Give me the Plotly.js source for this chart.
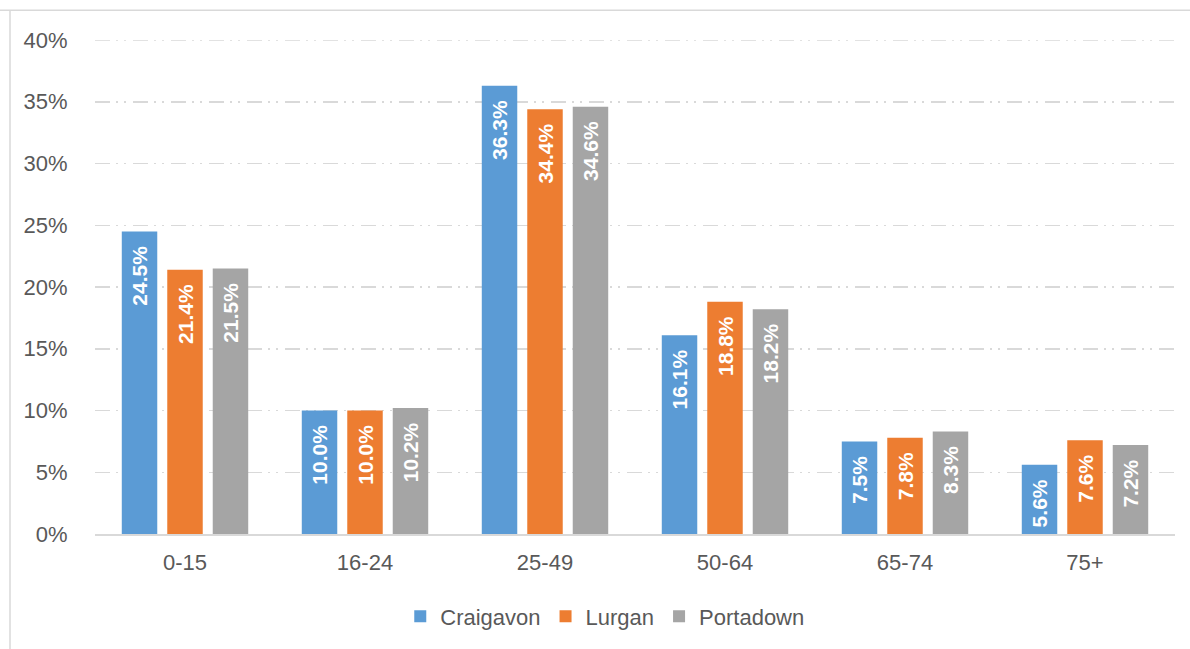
<!DOCTYPE html>
<html><head><meta charset="utf-8">
<script src="https://cdn.plot.ly/plotly-3.0.1.min.js"></script>
<style>html,body{margin:0;padding:0;background:#fff}#chart{width:1190px;height:649px}</style>
</head><body><div id="chart"></div>
<script>
const categories = ["0-15","16-24","25-49","50-64","65-74","75+"];
const craigavon = [24.5,10.0,36.3,16.1,7.5,5.6];
const lurgan = [21.4,10.0,34.4,18.8,7.8,7.6];
const portadown = [21.5,10.2,34.6,18.2,8.3,7.2];
const seriesNames = ["Craigavon","Lurgan","Portadown"];
const colors = ["#5B9BD5","#ED7D31","#A5A5A5"];
const yTicks = [0,5,10,15,20,25,30,35,40];

const font = "Liberation Sans, Arial, sans-serif";
const dashPattern = '15px,6px,2px,6px,2px,7px';
const traces = [craigavon, lurgan, portadown].map((vals,i)=>({
  type:'bar', name: seriesNames[i], x: categories, y: vals.map(v=>v/100),
  marker:{color:colors[i]},
  text: vals.map(v=>v.toFixed(1)+'%\u00a0\u00a0'), textposition:'inside', insidetextanchor:'end',
  textangle:-90, textfont:{color:'#fff', size:21, family:font, weight:'bold'},
  cliponaxis:false, hoverinfo:'none'
}));

const layout = {
  width:1190, height:649,
  margin:{l:95, r:15, t:40, b:112},
  paper_bgcolor:'#fff', plot_bgcolor:'#fff',
  barmode:'group', bargap:0.242, bargroupgap:0.22,
  font:{family:font, color:'#595959', size:22},
  xaxis:{tickfont:{size:22,color:'#595959'}, showline:true, linecolor:'#d9d9d9', linewidth:1.5,
    ticks:'outside', ticklen:8, tickcolor:'rgba(0,0,0,0)', showgrid:false, fixedrange:true},
  yaxis:{range:[0,0.4], tickvals:yTicks.map(v=>v/100), ticktext:yTicks.map(v=>v+'%'),
    showgrid:true, gridcolor:'#d9d9d9', gridwidth:1.5, griddash:dashPattern,
    zeroline:false, showline:false, ticks:'outside', ticklen:22, tickcolor:'rgba(0,0,0,0)',
    tickfont:{size:22,color:'#595959'}, fixedrange:true},
  showlegend:true,
  legend:{orientation:'h', x:0.472, xanchor:'center', y:-0.167, yanchor:'middle',
    font:{size:22,color:'#595959'}, itemwidth:30, traceorder:'normal'},
  shapes:[
    {type:'line', xref:'paper', yref:'y', x0:0, x1:1, y0:yTicks[yTicks.length-1]/100, y1:yTicks[yTicks.length-1]/100, layer:'below', line:{color:'#d9d9d9', width:1.5, dash:dashPattern}},
    {type:'line', xref:'paper', yref:'paper', x0:-95/1080, x1:1.2, y0:(649-10-112)/497, y1:(649-10-112)/497, line:{color:'#d9d9d9', width:1.5}},
    {type:'line', xref:'paper', yref:'paper', x0:-85/1080, x1:-85/1080, y0:-0.3, y1:(649-10-112)/497, line:{color:'#d9d9d9', width:1.5}}
  ]
};
Plotly.newPlot('chart', traces, layout, {displayModeBar:false, staticPlot:true});
</script></body></html>
